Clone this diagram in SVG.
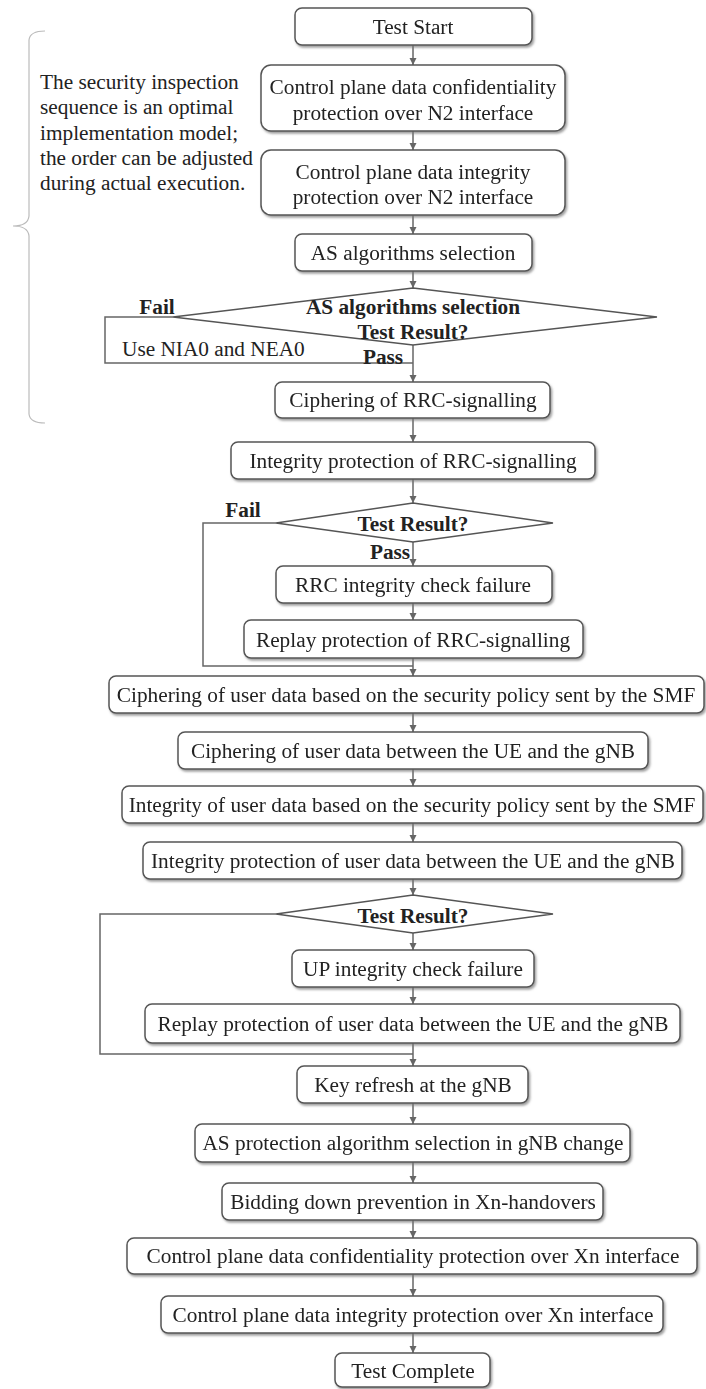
<svg xmlns="http://www.w3.org/2000/svg" width="706" height="1389" viewBox="0 0 706 1389">
  <defs>
    <style>
      .box { fill: #ffffff; stroke: #555555; stroke-width: 1.5; }
      .dia { fill: #ffffff; stroke: #555555; stroke-width: 1.5; }
      .t { font-family: "Liberation Serif", "Times New Roman", serif; font-size: 21.3px; fill: #222222; text-anchor: middle; dominant-baseline: central; }
      .b { font-weight: bold; }
      .l { text-anchor: start; }
      .wire { fill: none; stroke: #666666; stroke-width: 1.5; }
      .brace { fill: none; stroke: #bbbbbb; stroke-width: 1.2; }
    </style>
    <filter id="shadow" x="-5%" y="-20%" width="110%" height="150%">
      <feDropShadow dx="1.5" dy="2" stdDeviation="1" flood-color="#777777" flood-opacity="0.7"/>
    </filter>
    <marker id="arrow" viewBox="0 0 10 10" refX="10" refY="5" markerWidth="5" markerHeight="5" orient="auto">
      <path d="M0,0 L10,5 L0,10 z" fill="#666666"/>
    </marker>
  </defs>

  <rect width="706" height="1389" fill="#ffffff"/>

  <!-- note on the left with its brace -->
  <g id="note">
    <path class="brace" d="M45,31 Q30,31 29,40 L29,216 Q28,226 13,226 Q28,226 29,236 L29,414 Q30,423 45,423"/>
    <text class="t l" x="40" y="82">The security inspection</text>
    <text class="t l" x="40" y="107">sequence is an optimal</text>
    <text class="t l" x="40" y="133">implementation model;</text>
    <text class="t l" x="40" y="158">the order can be adjusted</text>
    <text class="t l" x="40" y="183">during actual execution.</text>
  </g>

  <!-- connectors -->
  <g id="connectors">
    <line class="wire" x1="413" y1="45" x2="413" y2="65" marker-end="url(#arrow)"/>
    <line class="wire" x1="413" y1="131" x2="413" y2="150" marker-end="url(#arrow)"/>
    <line class="wire" x1="413" y1="215" x2="413" y2="234" marker-end="url(#arrow)"/>
    <line class="wire" x1="413" y1="271" x2="413" y2="288" marker-end="url(#arrow)"/>
    <line class="wire" x1="413" y1="345" x2="413" y2="382" marker-end="url(#arrow)"/>
    <line class="wire" x1="413" y1="418" x2="413" y2="442" marker-end="url(#arrow)"/>
    <line class="wire" x1="413" y1="479" x2="413" y2="503" marker-end="url(#arrow)"/>
    <line class="wire" x1="413" y1="542" x2="413" y2="566" marker-end="url(#arrow)"/>
    <line class="wire" x1="413" y1="603" x2="413" y2="620" marker-end="url(#arrow)"/>
    <line class="wire" x1="413" y1="658" x2="413" y2="676" marker-end="url(#arrow)"/>
    <line class="wire" x1="413" y1="713" x2="413" y2="732" marker-end="url(#arrow)"/>
    <line class="wire" x1="413" y1="769" x2="413" y2="786" marker-end="url(#arrow)"/>
    <line class="wire" x1="413" y1="823" x2="413" y2="842" marker-end="url(#arrow)"/>
    <line class="wire" x1="413" y1="879" x2="413" y2="895" marker-end="url(#arrow)"/>
    <line class="wire" x1="413" y1="933" x2="413" y2="950" marker-end="url(#arrow)"/>
    <line class="wire" x1="413" y1="987" x2="413" y2="1004" marker-end="url(#arrow)"/>
    <line class="wire" x1="413" y1="1043" x2="413" y2="1066" marker-end="url(#arrow)"/>
    <line class="wire" x1="413" y1="1103" x2="413" y2="1124" marker-end="url(#arrow)"/>
    <line class="wire" x1="413" y1="1162" x2="413" y2="1183" marker-end="url(#arrow)"/>
    <line class="wire" x1="413" y1="1220" x2="413" y2="1238" marker-end="url(#arrow)"/>
    <line class="wire" x1="413" y1="1274" x2="413" y2="1296" marker-end="url(#arrow)"/>
    <line class="wire" x1="413" y1="1333" x2="413" y2="1353" marker-end="url(#arrow)"/>
    <!-- fail branches -->
    <path class="wire" d="M173,317 H105 V363 H413"/>
    <path class="wire" d="M276,523 H203 V666 H413"/>
    <path class="wire" d="M276,914 H100 V1054 H413"/>
  </g>

  <!-- branch labels -->
  <g id="labels">
    <text class="t b" x="157" y="307">Fail</text>
    <text class="t l" x="122" y="349">Use NIA0 and NEA0</text>
    <text class="t b" x="383" y="357">Pass</text>
    <text class="t b" x="243" y="510">Fail</text>
    <text class="t b" x="390" y="552">Pass</text>
  </g>

  <g id="test-start" filter="url(#shadow)">
    <rect class="box" x="295" y="8" width="237" height="37" rx="7"/>
    <text class="t" x="413" y="27">Test Start</text>
  </g>
  <g id="cp-conf-n2" filter="url(#shadow)">
    <rect class="box" x="261" y="65" width="304" height="66" rx="10"/>
    <text class="t" x="413" y="87">Control plane data confidentiality</text>
    <text class="t" x="413" y="113">protection over N2 interface</text>
  </g>
  <g id="cp-int-n2" filter="url(#shadow)">
    <rect class="box" x="261" y="150" width="304" height="65" rx="10"/>
    <text class="t" x="413" y="172">Control plane data integrity</text>
    <text class="t" x="413" y="197">protection over N2 interface</text>
  </g>
  <g id="as-alg" filter="url(#shadow)">
    <rect class="box" x="295" y="234" width="237" height="37" rx="7"/>
    <text class="t" x="413" y="253">AS algorithms selection</text>
  </g>
  <g id="as-alg-result">
    <polygon class="dia" points="413,288 657,317 413,345 173,317"/>
    <text class="t b" x="413" y="307">AS algorithms selection</text>
    <text class="t b" x="413" y="332">Test Result?</text>
  </g>
  <g id="rrc-cipher" filter="url(#shadow)">
    <rect class="box" x="275" y="382" width="275" height="36" rx="7"/>
    <text class="t" x="413" y="400">Ciphering of RRC-signalling</text>
  </g>
  <g id="rrc-int" filter="url(#shadow)">
    <rect class="box" x="231" y="442" width="364" height="37" rx="7"/>
    <text class="t" x="413" y="461">Integrity protection of RRC-signalling</text>
  </g>
  <g id="rrc-result">
    <polygon class="dia" points="413,503 553,523 413,542 276,523"/>
    <text class="t b" x="413" y="524">Test Result?</text>
  </g>
  <g id="rrc-check-fail" filter="url(#shadow)">
    <rect class="box" x="276" y="566" width="276" height="37" rx="7"/>
    <text class="t" x="413" y="585">RRC integrity check failure</text>
  </g>
  <g id="rrc-replay" filter="url(#shadow)">
    <rect class="box" x="244" y="620" width="339" height="38" rx="7"/>
    <text class="t" x="413" y="640">Replay protection of RRC-signalling</text>
  </g>
  <g id="up-cipher-smf" filter="url(#shadow)">
    <rect class="box" x="109" y="676" width="595" height="37" rx="7"/>
    <text class="t" x="406" y="695">Ciphering of user data based on the security policy sent by the SMF</text>
  </g>
  <g id="up-cipher-gnb" filter="url(#shadow)">
    <rect class="box" x="178" y="732" width="470" height="37" rx="7"/>
    <text class="t" x="413" y="751">Ciphering of user data between the UE and the gNB</text>
  </g>
  <g id="up-int-smf" filter="url(#shadow)">
    <rect class="box" x="122" y="786" width="581" height="37" rx="7"/>
    <text class="t" x="412" y="805">Integrity of user data based on the security policy sent by the SMF</text>
  </g>
  <g id="up-int-gnb" filter="url(#shadow)">
    <rect class="box" x="143" y="842" width="539" height="37" rx="7"/>
    <text class="t" x="413" y="861">Integrity protection of user data between the UE and the gNB</text>
  </g>
  <g id="up-result">
    <polygon class="dia" points="413,895 553,914 413,933 276,914"/>
    <text class="t b" x="413" y="916">Test Result?</text>
  </g>
  <g id="up-check-fail" filter="url(#shadow)">
    <rect class="box" x="292" y="950" width="242" height="37" rx="7"/>
    <text class="t" x="413" y="969">UP integrity check failure</text>
  </g>
  <g id="up-replay" filter="url(#shadow)">
    <rect class="box" x="145" y="1004" width="535" height="39" rx="7"/>
    <text class="t" x="413" y="1024">Replay protection of user data between the UE and the gNB</text>
  </g>
  <g id="key-refresh" filter="url(#shadow)">
    <rect class="box" x="297" y="1066" width="231" height="37" rx="7"/>
    <text class="t" x="413" y="1085">Key refresh at the gNB</text>
  </g>
  <g id="as-gnb-change" filter="url(#shadow)">
    <rect class="box" x="195" y="1124" width="435" height="38" rx="7"/>
    <text class="t" x="413" y="1143">AS protection algorithm selection in gNB change</text>
  </g>
  <g id="bidding-down" filter="url(#shadow)">
    <rect class="box" x="222" y="1183" width="381" height="37" rx="7"/>
    <text class="t" x="413" y="1202">Bidding down prevention in Xn-handovers</text>
  </g>
  <g id="cp-conf-xn" filter="url(#shadow)">
    <rect class="box" x="127" y="1238" width="570" height="36" rx="7"/>
    <text class="t" x="413" y="1256">Control plane data confidentiality protection over Xn interface</text>
  </g>
  <g id="cp-int-xn" filter="url(#shadow)">
    <rect class="box" x="161" y="1296" width="502" height="37" rx="7"/>
    <text class="t" x="413" y="1315">Control plane data integrity protection over Xn interface</text>
  </g>
  <g id="test-complete" filter="url(#shadow)">
    <rect class="box" x="335" y="1353" width="155" height="34" rx="7"/>
    <text class="t" x="413" y="1371">Test Complete</text>
  </g>
</svg>
